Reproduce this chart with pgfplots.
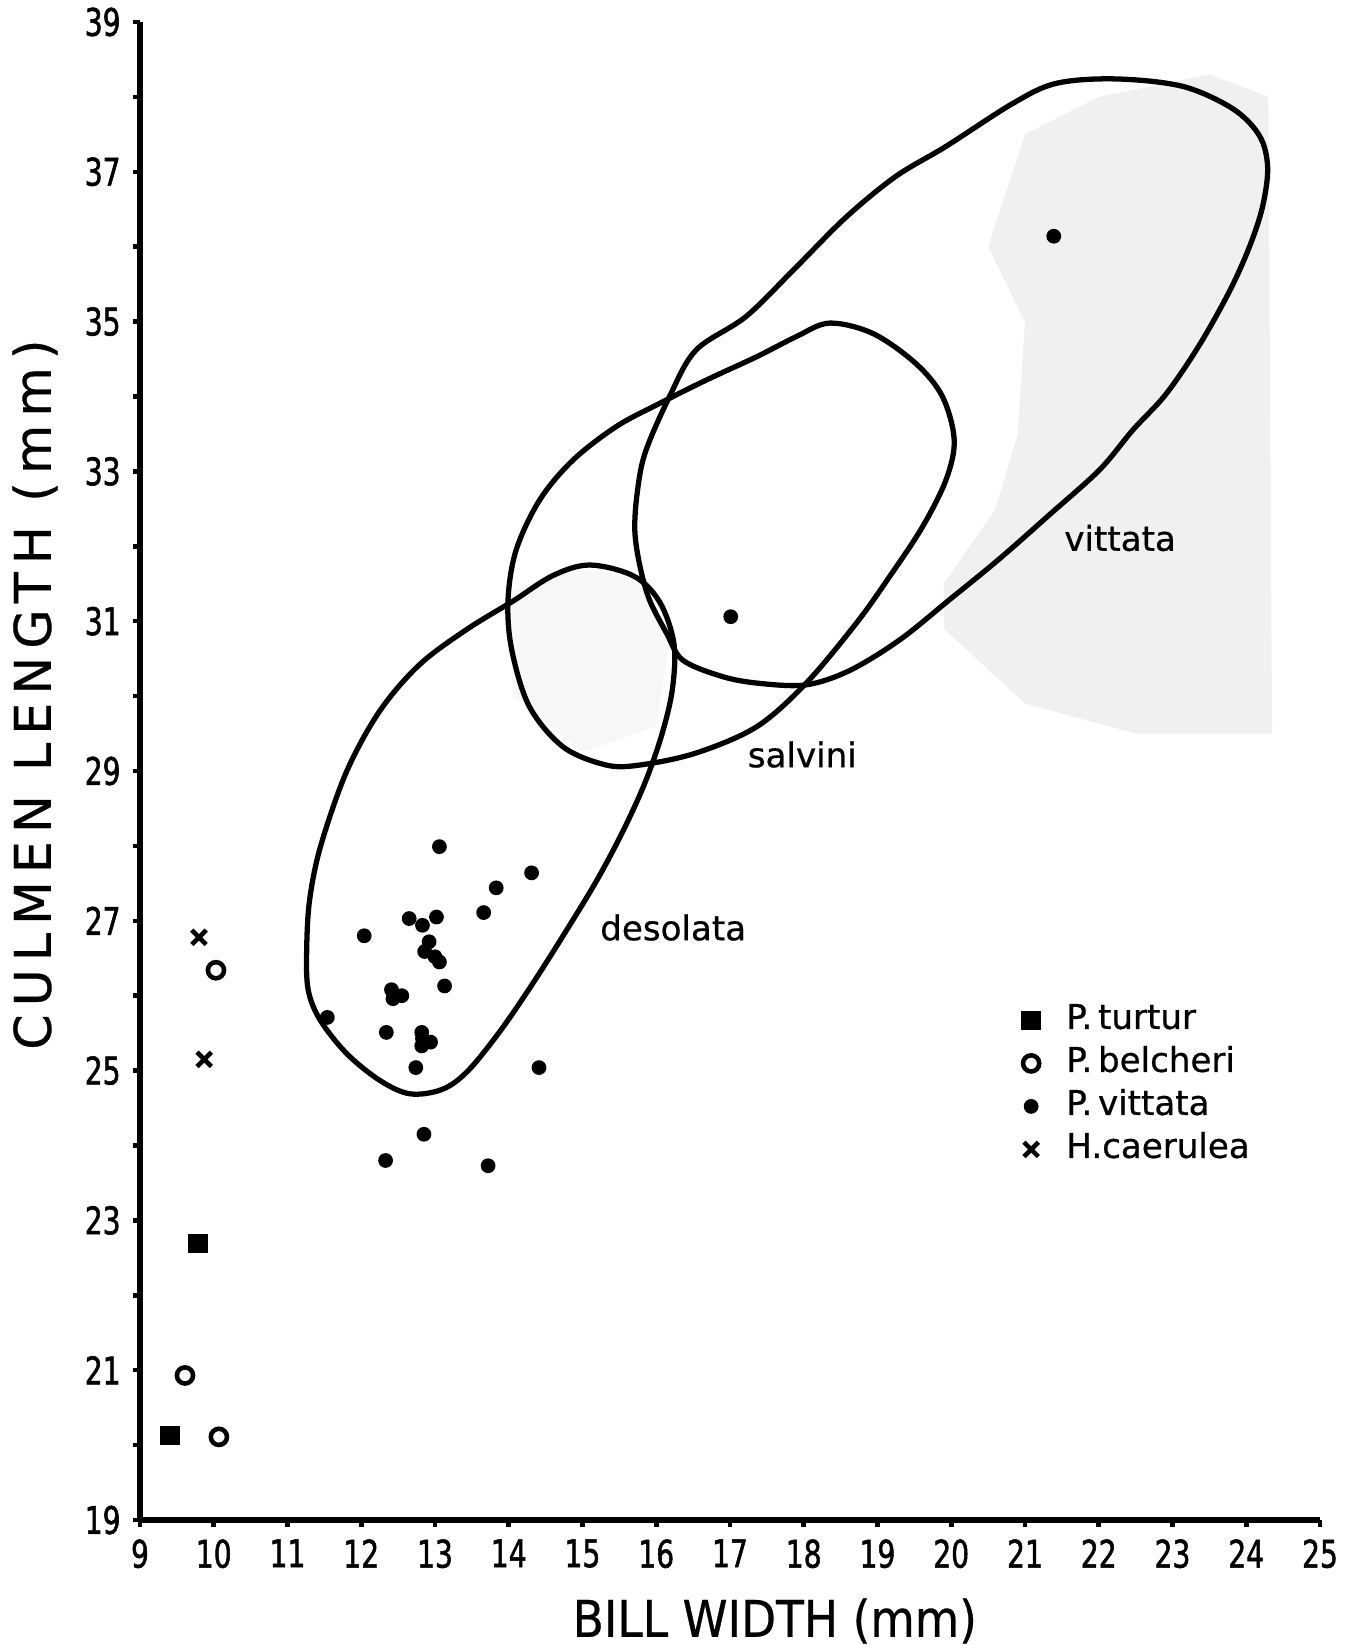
\documentclass[border=0pt]{standalone}
\usepackage{fontspec}
\setmainfont[FakeBold=0.7]{DejaVu Sans}
\newfontfamily\tickfont[FakeStretch=0.74, FakeBold=1.4]{DejaVu Sans}
\newfontfamily\labfont[FakeStretch=0.9, FakeBold=0.6]{DejaVu Sans}
\newfontfamily\ylabfont[LetterSpace=16, FakeBold=0.6]{DejaVu Sans}
\usepackage{pgfplots}
\pgfplotsset{compat=1.18}

\begin{document}
\begin{tikzpicture}
\begin{axis}[
  at={(0,0)}, anchor=south west,
  scale only axis, width=118mm, height=149.8mm,
  xmin=9, xmax=25, ymin=19, ymax=39,
  clip=false,
  axis lines*=left,
  axis line style={line width=1.5pt, -},
  xtick={9,10,...,25},
  ytick={19,21,...,39},
  minor ytick={20,22,...,38},
  tick align=outside,
  major tick length=0.7mm, minor tick length=0.7mm,
  every tick/.style={black, line width=1.3pt},
  tick label style={font=\tickfont\fontsize{10.8}{12}\selectfont},
  /pgf/number format/assume math mode=true,
  xlabel={BILL WIDTH (mm)},
  ylabel={CULMEN LENGTH (mm)},
  xlabel style={font=\labfont\fontsize{14.4}{16}\selectfont, at={(axis description cs:0.538,-0.0674)}, anchor=center},
  ylabel style={font=\ylabfont\fontsize{14.4}{16}\selectfont, at={(axis description cs:-0.089,0.551)}, anchor=center},
  legend style={draw=none, fill=none, at={(axis cs:20.95,25.9)}, anchor=north west,
    font=\fontsize{9.7}{11}\selectfont, inner sep=0pt, row sep=1.0mm, column sep=2.6mm,
    nodes={inner sep=0pt, text height=2.5mm, text depth=0.8mm}},
  legend cell align=left,
]
% stippled background areas
\addplot[draw=none, fill=black!6, forget plot] coordinates {
 (21.0,37.5) (22.0,38.0) (23.5,38.3) (24.3,38.0) (24.35,29.5) (22.5,29.5) (21.0,29.9)
 (19.9,30.9) (19.9,31.5) (20.6,32.5) (20.9,33.5) (21.0,35.0) (20.5,36.0)} -- cycle;
\addplot[draw=none, fill=black!3, forget plot] coordinates {
 (14.05,30.0) (14.05,31.4) (14.8,31.7) (15.8,31.6) (16.2,30.8) (16.0,29.6) (15.0,29.25)} -- cycle;

% contours
\addplot[black, line width=1.5pt, smooth cycle, tension=0.55, forget plot] coordinates {
 (15.10,31.75) (15.70,31.60) (16.05,31.25) (16.24,30.70) (16.22,30.10) (16.08,29.50)
 (15.85,28.85) (15.55,28.20) (15.20,27.55) (14.80,26.90) (14.35,26.20) (13.90,25.55)
 (13.45,25.00) (13.10,24.75) (12.66,24.69) (12.25,24.87) (11.80,25.23) (11.44,25.68)
 (11.28,26.08) (11.26,26.61) (11.30,27.28) (11.45,28.00) (11.80,28.99) (12.25,29.80)
 (12.79,30.42) (13.43,30.89) (14.06,31.27) (14.60,31.61)};
\addplot[black, line width=1.5pt, smooth cycle, tension=0.55, forget plot] coordinates {
 (18.35,34.98) (18.94,34.84) (19.52,34.44) (19.88,34.00) (20.04,33.42) (19.93,32.89)
 (19.61,32.26) (19.16,31.59) (18.71,30.97) (18.03,30.17) (17.36,29.59) (16.54,29.24)
 (15.78,29.08) (15.32,29.08) (14.74,29.32) (14.28,29.86) (14.04,30.62) (13.99,31.28)
 (14.10,31.95) (14.42,32.62) (14.87,33.15) (15.46,33.60) (16.05,33.91) (16.68,34.22)
 (17.36,34.53) (17.90,34.80)};
\addplot[black, line width=1.5pt, smooth cycle, tension=0.55, forget plot] coordinates {
 (22.23,38.24) (23.14,38.14) (23.82,37.84) (24.18,37.48) (24.29,37.06) (24.22,36.53)
 (24.04,35.99) (23.77,35.40) (23.36,34.68) (22.91,34.03) (22.46,33.55) (22.01,33.02)
 (21.33,32.42) (20.65,31.83) (19.98,31.29) (19.30,30.75) (18.62,30.34) (18.03,30.15)
 (17.40,30.17) (16.90,30.26) (16.36,30.48) (16.14,30.84) (15.91,31.28) (15.78,31.73)
 (15.71,32.20) (15.74,32.70) (15.85,33.25) (16.18,34.00) (16.54,34.62) (17.22,35.07)
 (17.90,35.73) (18.58,36.40) (19.25,36.94) (19.93,37.34) (20.83,37.91) (21.42,38.18)};

% data
\addplot[only marks, mark=square*, mark size=2.6pt, black] coordinates {
 (9.79,22.69) (9.41,20.13)};
\addlegendentry{P.\,turtur}
\addplot[only marks, mark=o, mark size=2.3pt, line width=1.3pt, black] coordinates {
 (10.03,26.34) (9.61,20.93) (10.07,20.11)};
\addlegendentry{P.\,belcheri}
\addplot[only marks, mark=*, mark size=1.9pt, black] coordinates {
 (13.06,27.99) (14.31,27.64) (13.83,27.44) (13.66,27.11) (12.65,27.03) (13.02,27.05)
 (12.83,26.94) (12.04,26.80) (12.92,26.72) (12.86,26.59) (13.00,26.52) (13.06,26.45)
 (13.13,26.13) (12.41,26.08) (12.43,25.96) (12.55,26.00) (11.54,25.71) (12.34,25.51)
 (12.82,25.51) (12.83,25.43) (12.94,25.38) (12.82,25.33) (12.74,25.04) (14.41,25.04)
 (12.85,24.15) (12.33,23.80) (13.72,23.73) (17.01,31.06) (21.39,36.14)};
\addlegendentry{P.\,vittata}
\addplot[only marks, mark=x, mark size=2.9pt, line width=1.3pt, black] coordinates {
 (9.80,26.78) (9.87,25.15)};
\addlegendentry{H.caerulea}

\node[font=\fontsize{9.7}{11}\selectfont] at (axis cs:22.29,32.11) {vittata};
\node[font=\fontsize{9.7}{11}\selectfont] at (axis cs:17.98,29.22) {salvini};
\node[font=\fontsize{9.7}{11}\selectfont] at (axis cs:16.23,26.91) {desolata};
\end{axis}
\pgfresetboundingbox
\path[use as bounding box] (-14mm,-12.5mm) rectangle (121.9mm,152mm);
\end{tikzpicture}
\end{document}
